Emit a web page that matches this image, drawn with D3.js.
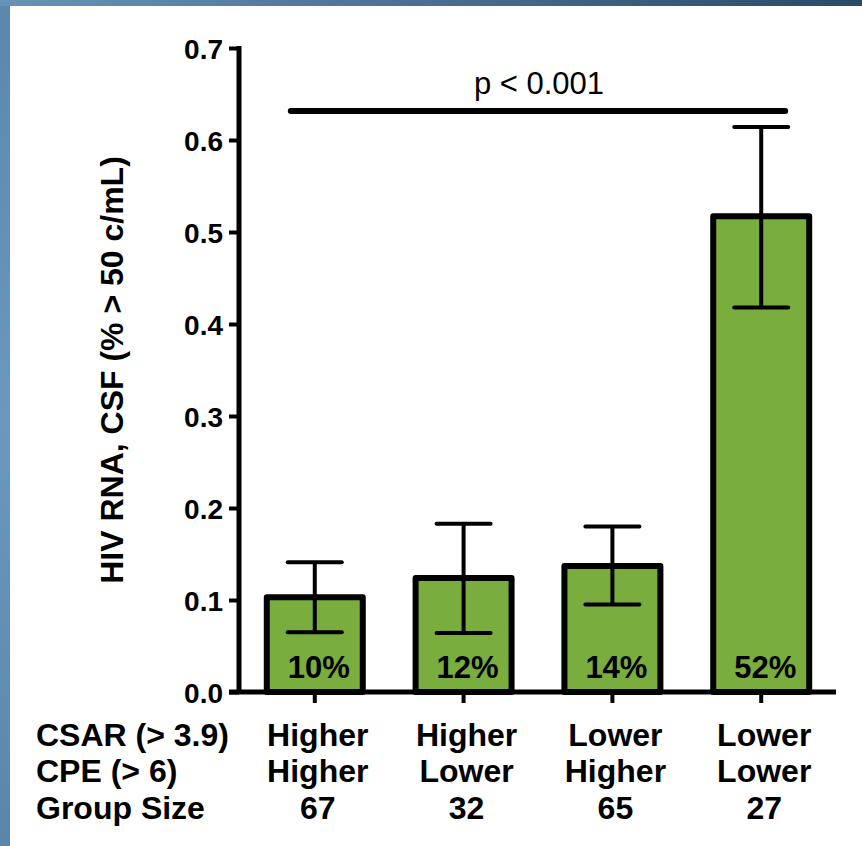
<!DOCTYPE html>
<html>
<head>
<meta charset="utf-8">
<script src="https://cdn.jsdelivr.net/npm/d3@7"></script>
<style>
    body{margin:0;padding:0;overflow:hidden;}
    text{font-family:"Liberation Sans",Arial,sans-serif;fill:#000;}
</style>
</head>
<body>
<div id="chart"></div>
<script>
// values
var groups = ["g1", "g2", "g3", "g4"];
var means = [0.103, 0.124, 0.137, 0.517];
var errHigh = [0.141, 0.183, 0.180, 0.614];
var errLow = [0.065, 0.064, 0.095, 0.418];
var pctLabels = ["10%", "12%", "14%", "52%"];
var csarRow = ["Higher", "Higher", "Lower", "Lower"];
var cpeRow = ["Higher", "Lower", "Higher", "Lower"];
var sizeRow = ["67", "32", "65", "27"];
var rowNames = ["CSAR (> 3.9)", "CPE (> 6)", "Group Size"];
var yTicks = [0, 0.1, 0.2, 0.3, 0.4, 0.5, 0.6, 0.7];

var W = 862, H = 846;
var svg = d3.select("#chart").append("svg")
    .attr("width", W)
    .attr("height", H);

// slide background
var defs = svg.append("defs");
var grad = defs.append("linearGradient").attr("id", "topgrad")
    .attr("x1", "0%").attr("x2", "100%").attr("y1", "0%").attr("y2", "0%");
grad.append("stop").attr("offset", "0%").attr("stop-color", "#6893b7");
grad.append("stop").attr("offset", "100%").attr("stop-color", "#2b4a68");
var lgrad = defs.append("linearGradient").attr("id", "leftgrad")
    .attr("x1", "0%").attr("x2", "0%").attr("y1", "0%").attr("y2", "100%");
lgrad.append("stop").attr("offset", "0%").attr("stop-color", "#5a87ad");
lgrad.append("stop").attr("offset", "50%").attr("stop-color", "#6b98be");
lgrad.append("stop").attr("offset", "100%").attr("stop-color", "#5a86ab");

svg.append("rect").attr("width", W).attr("height", H).attr("fill", "url(#leftgrad)");
svg.append("rect").attr("width", W).attr("height", 6).attr("fill", "url(#topgrad)");
svg.append("rect").attr("x", 10).attr("y", 6).attr("width", W - 10).attr("height", H - 6).attr("fill", "#fff");

var x = d3.scaleBand()
    .domain(groups)
    .range([240, 836])
    .paddingInner(0.355)
    .paddingOuter(0.18);

var y = d3.scaleLinear()
    .domain([0, 0.7])
    .range([692, 48]);

var g = svg.append("g");

// bars
g.selectAll("rect.bar")
    .data(means)
    .enter()
    .append("rect")
    .attr("class", "bar")
    .attr("x", function (d, i) { return x(groups[i]); })
    .attr("width", x.bandwidth())
    .attr("y", function (d) { return y(d); })
    .attr("height", function (d) { return y(0) - y(d); })
    .attr("fill", "#79ad3d")
    .attr("stroke", "#000")
    .attr("stroke-width", 6)
    .attr("stroke-linejoin", "round");

// error bars
var eb = g.selectAll("g.err")
    .data(groups)
    .enter()
    .append("g")
    .attr("class", "err")
    .attr("transform", function (d) {
        return "translate(" + (x(d) + x.bandwidth() / 2) + ",0)";
    });
eb.append("line")
    .attr("y1", function (d, i) { return y(errLow[i]); })
    .attr("y2", function (d, i) { return y(errHigh[i]); })
    .attr("stroke", "#000").attr("stroke-width", 4);
eb.append("line")
    .attr("x1", -27).attr("x2", 27)
    .attr("y1", function (d, i) { return y(errHigh[i]); })
    .attr("y2", function (d, i) { return y(errHigh[i]); })
    .attr("stroke", "#000").attr("stroke-width", 4).attr("stroke-linecap", "round");
eb.append("line")
    .attr("x1", -27).attr("x2", 27)
    .attr("y1", function (d, i) { return y(errLow[i]); })
    .attr("y2", function (d, i) { return y(errLow[i]); })
    .attr("stroke", "#000").attr("stroke-width", 4).attr("stroke-linecap", "round");

// percent labels inside the bars
g.selectAll("text.pct")
    .data(pctLabels)
    .enter()
    .append("text")
    .attr("class", "pct")
    .attr("x", function (d, i) { return x(groups[i]) + x.bandwidth() / 2 + 4; })
    .attr("y", 678)
    .attr("text-anchor", "middle")
    .style("font-size", "31px")
    .style("font-weight", "bold")
    .text(function (d) { return d; });

// y axis
var yAxis = d3.axisLeft(y)
    .tickValues(yTicks)
    .tickFormat(d3.format(".1f"))
    .tickSize(10)
    .tickPadding(6);
var ya = svg.append("g")
    .attr("transform", "translate(239,0)")
    .call(yAxis);
ya.select(".domain").remove();
ya.selectAll(".tick line").attr("stroke", "#000").attr("stroke-width", 4);
ya.selectAll(".tick text")
    .style("font-size", "28px")
    .style("font-weight", "bold")
    .style("font-family", "'Liberation Sans',Arial,sans-serif")
    .attr("dy", "0.36em");
svg.append("line")
    .attr("x1", 239).attr("x2", 239)
    .attr("y1", y(0.7) - 2).attr("y2", y(0) + 2)
    .attr("stroke", "#000").attr("stroke-width", 5);

// x axis
var xAxis = d3.axisBottom(x).tickSize(11).tickFormat("");
var xa = svg.append("g")
    .attr("transform", "translate(0," + y(0) + ")")
    .call(xAxis);
xa.select(".domain").remove();
xa.selectAll(".tick line").attr("stroke", "#000").attr("stroke-width", 4);
svg.append("line")
    .attr("x1", 229).attr("x2", 836)
    .attr("y1", y(0)).attr("y2", y(0))
    .attr("stroke", "#000").attr("stroke-width", 5);

// y axis title
svg.append("text")
    .attr("transform", "translate(123," + 370 + ") rotate(-90)")
    .attr("text-anchor", "middle")
    .style("font-size", "32px")
    .style("font-weight", "bold")
    .text("HIV RNA, CSF (% > 50 c/mL)");

// significance bar
svg.append("line")
    .attr("x1", x(groups[0]) + 24)
    .attr("x2", x(groups[3]) + x.bandwidth() - 24)
    .attr("y1", 111).attr("y2", 111)
    .attr("stroke", "#000").attr("stroke-width", 6).attr("stroke-linecap", "round");
svg.append("text")
    .attr("x", 539).attr("y", 94)
    .attr("text-anchor", "middle")
    .style("font-size", "31px")
    .text("p < 0.001");

// table under the axis
var rows = [csarRow, cpeRow, sizeRow];
var rowY = [746, 782, 819];
rows.forEach(function (r, k) {
    svg.append("text")
        .attr("x", 36).attr("y", rowY[k])
        .style("font-size", "32px")
        .style("font-weight", "bold")
        .text(rowNames[k]);
    svg.selectAll("text.row" + k)
        .data(r)
        .enter()
        .append("text")
        .attr("class", "row" + k)
        .attr("x", function (d, i) { return x(groups[i]) + x.bandwidth() / 2 + 3; })
        .attr("y", rowY[k])
        .attr("text-anchor", "middle")
        .style("font-size", "32px")
        .style("font-weight", "bold")
        .text(function (d) { return d; });
});
</script>
</body>
</html>
